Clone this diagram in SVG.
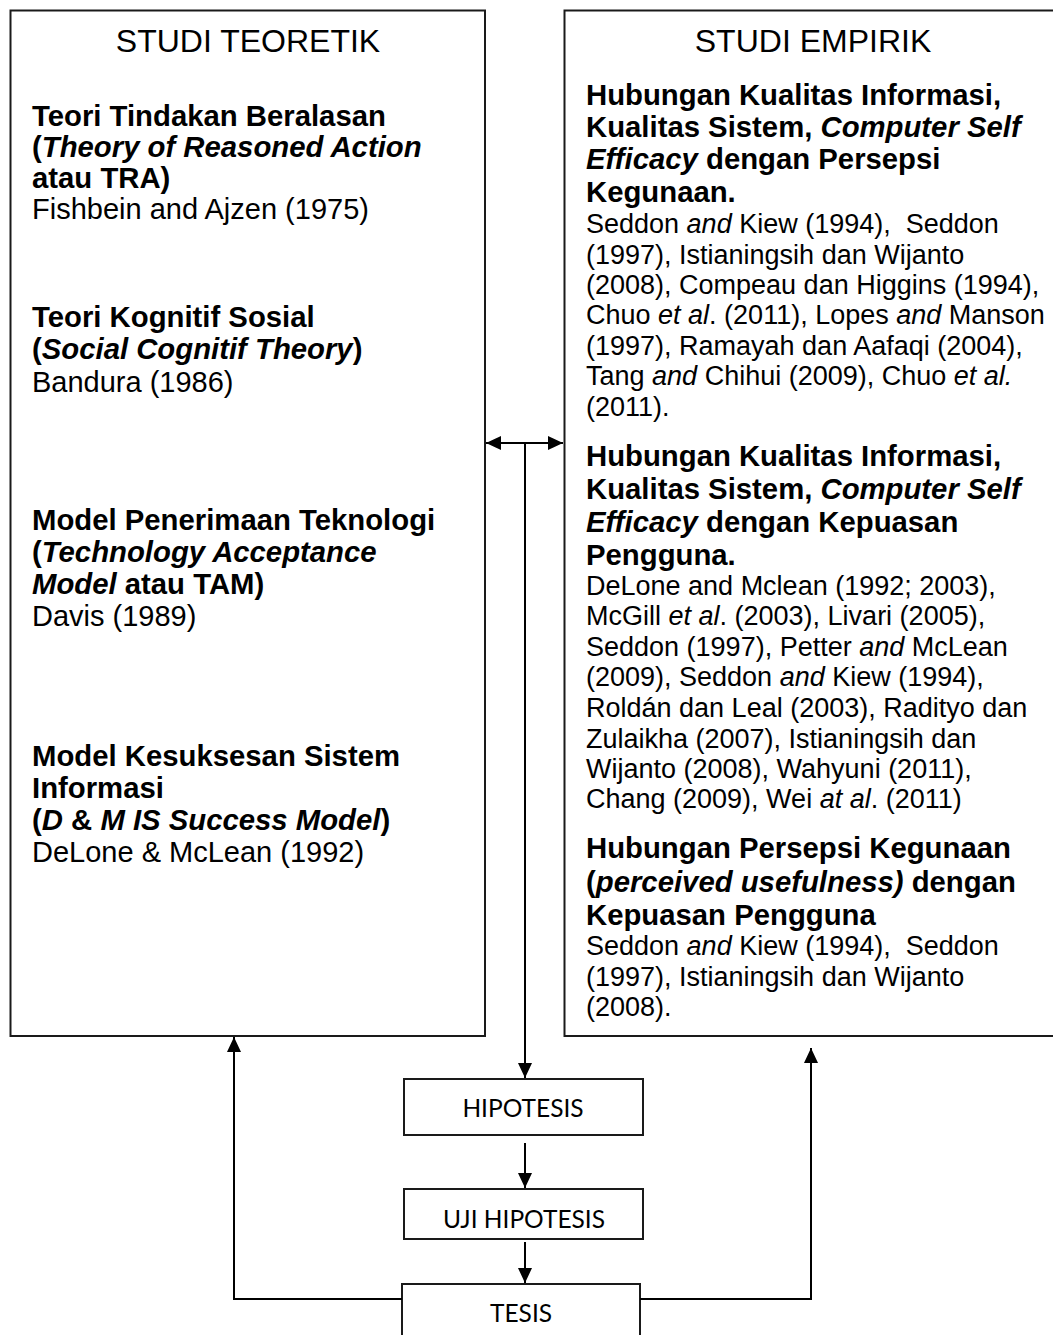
<svg xmlns="http://www.w3.org/2000/svg" width="1053" height="1335" viewBox="0 0 1053 1335">
<style>
  text { fill: #000; font-family: "Liberation Sans", Arial, sans-serif; white-space: pre; }
  .t { font-size: 32px; }
  .b { font-size: 29.3px; font-weight: bold; }
  .r { font-size: 27px; }
  .rl { font-size: 29px; }
  .i { font-style: italic; }
  .box { fill: #fff; stroke: #1a1a1a; stroke-width: 2; }
  .sm { font-family: Lato, "Open Sans", sans-serif; font-size: 24.5px; text-anchor: middle; }
  .c { fill: none; stroke: #000; stroke-width: 2; }
</style>
<defs>
  <marker id="ah" markerUnits="userSpaceOnUse" markerWidth="16" markerHeight="14" refX="15" refY="7" orient="auto-start-reverse">
    <path d="M0,0 L15,7 L0,14 Z" fill="#000"/>
  </marker>
</defs>

<g id="teoretik">
  <rect class="box" x="10.5" y="10.5" width="474.5" height="1025.5"/>
  <text class="t" x="248" y="52" text-anchor="middle">STUDI TEORETIK</text>
  <text class="b" x="32" y="126">Teori Tindakan Beralasan</text>
  <text class="b" x="32" y="157">(<tspan class="i">Theory of Reasoned Action</tspan></text>
  <text class="b" x="32" y="188">atau TRA)</text>
  <text class="rl" x="32" y="219">Fishbein and Ajzen (1975)</text>
  <text class="b" x="32" y="327">Teori Kognitif Sosial</text>
  <text class="b" x="32" y="359">(<tspan class="i">Social Cognitif Theory</tspan>)</text>
  <text class="rl" x="32" y="392">Bandura (1986)</text>
  <text class="b" x="32" y="530">Model Penerimaan Teknologi</text>
  <text class="b" x="32" y="562">(<tspan class="i">Technology Acceptance</tspan></text>
  <text class="b" x="32" y="594"><tspan class="i">Model</tspan> atau TAM)</text>
  <text class="rl" x="32" y="626">Davis (1989)</text>
  <text class="b" x="32" y="766">Model Kesuksesan Sistem</text>
  <text class="b" x="32" y="798">Informasi</text>
  <text class="b" x="32" y="830">(<tspan class="i">D</tspan> &amp; <tspan class="i">M IS Success Model</tspan>)</text>
  <text class="rl" x="32" y="862">DeLone &amp; McLean (1992)</text>
</g>

<g id="empirik">
  <rect class="box" x="564.5" y="10.5" width="500" height="1025.5"/>
  <text class="t" x="813" y="52" text-anchor="middle">STUDI EMPIRIK</text>
  <text class="b" x="586" y="105">Hubungan Kualitas Informasi,</text>
  <text class="b" x="586" y="137">Kualitas Sistem, <tspan class="i">Computer Self</tspan></text>
  <text class="b" x="586" y="169"><tspan class="i">Efficacy</tspan> dengan Persepsi</text>
  <text class="b" x="586" y="202">Kegunaan.</text>
  <text class="r" x="586" y="233">Seddon <tspan class="i">and</tspan> Kiew (1994),  Seddon</text>
  <text class="r" x="586" y="264">(1997), Istianingsih dan Wijanto</text>
  <text class="r" x="586" y="294">(2008), Compeau dan Higgins (1994),</text>
  <text class="r" x="586" y="324">Chuo <tspan class="i">et al</tspan>. (2011), Lopes <tspan class="i">and</tspan> Manson</text>
  <text class="r" x="586" y="355">(1997), Ramayah dan Aafaqi (2004),</text>
  <text class="r" x="586" y="385">Tang <tspan class="i">and</tspan> Chihui (2009), Chuo <tspan class="i">et al.</tspan></text>
  <text class="r" x="586" y="416">(2011).</text>
  <text class="b" x="586" y="466">Hubungan Kualitas Informasi,</text>
  <text class="b" x="586" y="499">Kualitas Sistem, <tspan class="i">Computer Self</tspan></text>
  <text class="b" x="586" y="532"><tspan class="i">Efficacy</tspan> dengan Kepuasan</text>
  <text class="b" x="586" y="565">Pengguna.</text>
  <text class="r" x="586" y="595">DeLone and Mclean (1992; 2003),</text>
  <text class="r" x="586" y="625">McGill <tspan class="i">et al</tspan>. (2003), Livari (2005),</text>
  <text class="r" x="586" y="656">Seddon (1997), Petter <tspan class="i">and</tspan> McLean</text>
  <text class="r" x="586" y="686">(2009), Seddon <tspan class="i">and</tspan> Kiew (1994),</text>
  <text class="r" x="586" y="717">Roldán dan Leal (2003), Radityo dan</text>
  <text class="r" x="586" y="748">Zulaikha (2007), Istianingsih dan</text>
  <text class="r" x="586" y="778">Wijanto (2008), Wahyuni (2011),</text>
  <text class="r" x="586" y="808">Chang (2009), Wei <tspan class="i">at al</tspan>. (2011)</text>
  <text class="b" x="586" y="858">Hubungan Persepsi Kegunaan</text>
  <text class="b" x="586" y="892">(<tspan class="i">perceived usefulness)</tspan> dengan</text>
  <text class="b" x="586" y="925">Kepuasan Pengguna</text>
  <text class="r" x="586" y="955">Seddon <tspan class="i">and</tspan> Kiew (1994),  Seddon</text>
  <text class="r" x="586" y="986">(1997), Istianingsih dan Wijanto</text>
  <text class="r" x="586" y="1016">(2008).</text>
</g>

<g id="hipotesis">
  <rect class="box" x="404" y="1079" width="239" height="56"/>
  <text class="sm" x="523" y="1117">HIPOTESIS</text>
</g>
<g id="uji-hipotesis">
  <rect class="box" x="404" y="1189" width="239" height="50"/>
  <text class="sm" x="524" y="1228">UJI HIPOTESIS</text>
</g>
<g id="tesis">
  <rect class="box" x="402" y="1284" width="238" height="70"/>
  <text class="sm" x="521" y="1322">TESIS</text>
</g>

<g id="connectors">
  <line class="c" x1="486" y1="443" x2="563" y2="443" marker-start="url(#ah)" marker-end="url(#ah)"/>
  <path class="c" d="M525,443 V1078" marker-end="url(#ah)"/>
  <path class="c" d="M525,1143 V1188" marker-end="url(#ah)"/>
  <path class="c" d="M525,1242 V1283" marker-end="url(#ah)"/>
  <path class="c" d="M402,1299 H234 V1037" marker-end="url(#ah)"/>
  <path class="c" d="M640,1299 H811 V1048" marker-end="url(#ah)"/>
</g>
</svg>
